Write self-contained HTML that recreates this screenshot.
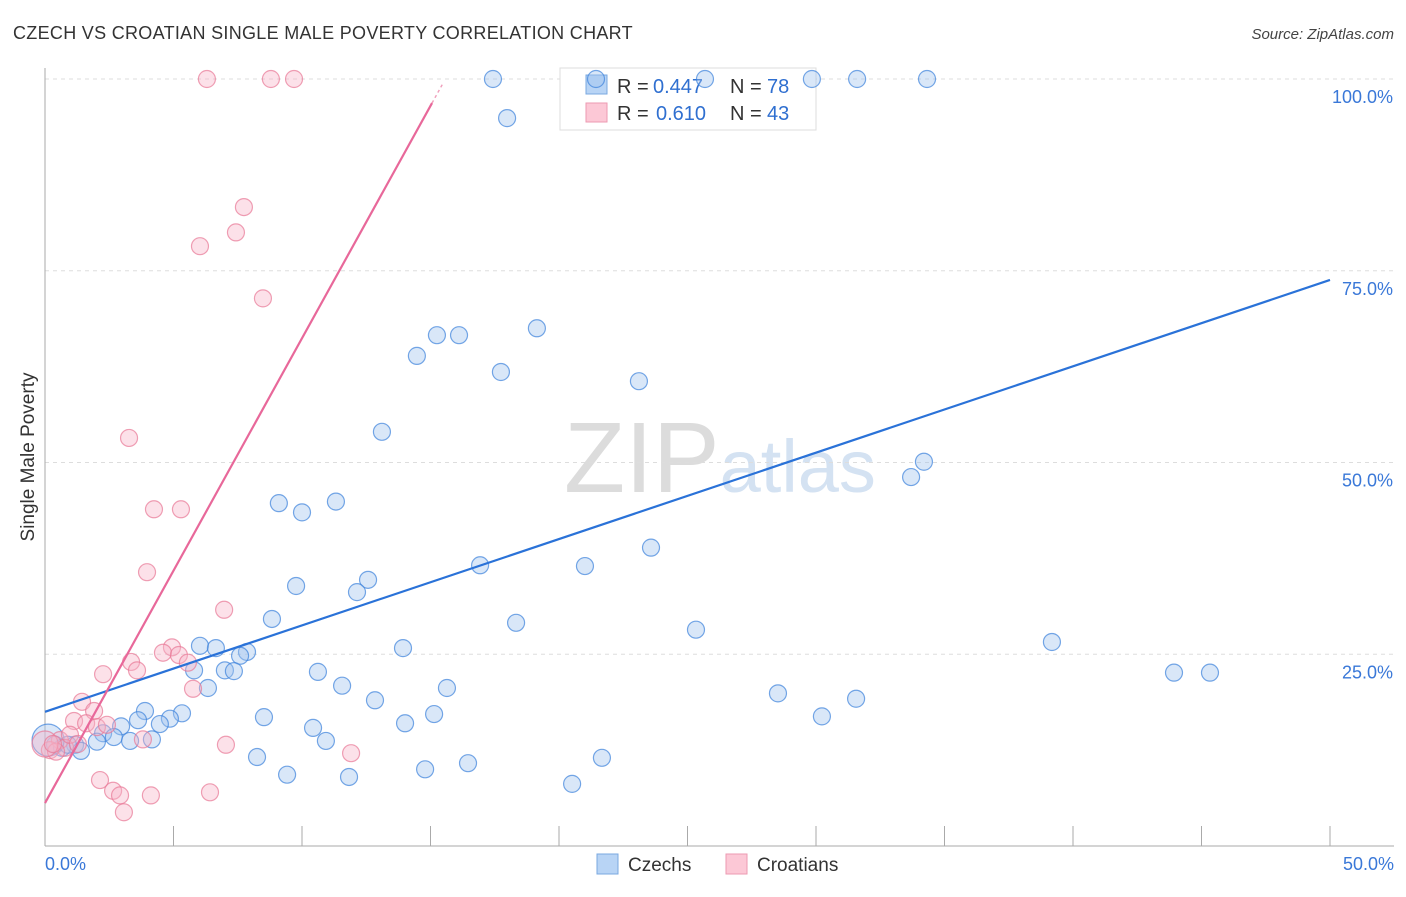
<!DOCTYPE html>
<html><head><meta charset="utf-8"><style>
body{margin:0;background:#fff;font-family:"Liberation Sans",sans-serif;}
svg text{font-family:"Liberation Sans",sans-serif;}
</style></head><body>
<svg id="chart" width="1406" height="892" xmlns="http://www.w3.org/2000/svg">
<text x="13" y="39" font-size="18" fill="#333" letter-spacing="0.3">CZECH VS CROATIAN SINGLE MALE POVERTY CORRELATION CHART</text>
<text x="1394" y="39" font-size="15" fill="#444" text-anchor="end" font-style="italic">Source: ZipAtlas.com</text>
<text x="720" y="492" font-size="100" fill="#e4e4e4" text-anchor="middle" font-family="Liberation Serif"><tspan fill="#dcdcdc">ZIP</tspan><tspan fill="#d4e2f2" font-family="Liberation Sans" font-size="74">atlas</tspan></text>
<text transform="translate(34,457) rotate(-90)" font-size="19" fill="#333" text-anchor="middle">Single Male Poverty</text>
<g id="grid"></g><g id="axes"></g>
<g>
<rect x="560" y="68" width="256" height="62" fill="#fff" stroke="#ddd"/>
<rect x="586" y="75" width="21" height="19" fill="#b8d4f5" stroke="#7aa8e0"/>
<text x="617" y="93" font-size="20" fill="#333">R =</text>
<text x="653" y="93" font-size="20" fill="#2f6fd0">0.447</text>
<text x="730" y="93" font-size="20" fill="#333">N =</text>
<text x="767" y="93" font-size="20" fill="#2f6fd0">78</text>
<rect x="586" y="103" width="21" height="19" fill="#fcc8d6" stroke="#ec9ab2"/>
<text x="617" y="120" font-size="20" fill="#333">R =</text>
<text x="656" y="120" font-size="20" fill="#2f6fd0">0.610</text>
<text x="730" y="120" font-size="20" fill="#333">N =</text>
<text x="767" y="120" font-size="20" fill="#2f6fd0">43</text>
</g>
<g id="pts"></g><g id="lines"></g>
<g>
<rect x="597" y="854" width="21" height="20" fill="#b8d4f5" stroke="#7aa8e0"/>
<text x="628" y="871" font-size="19" fill="#333">Czechs</text>
<rect x="726" y="854" width="21" height="20" fill="#fcc8d6" stroke="#ec9ab2"/>
<text x="757" y="871" font-size="19" fill="#333">Croatians</text>
</g>
</svg>
<script>
const yTicks=[25,50,75,100];
const yTickLabels=["25.0%","50.0%","75.0%","100.0%"];
const xTickLabels=["0.0%","50.0%"];
const czechX=[17.43,17.98,21.44,25.68,29.84,31.60,34.32,15.25,16.11,19.14,14.47,17.74,23.11,13.11,34.20,33.70,9.10,10.00,11.32,23.58,16.93,21.01,9.77,12.57,12.14,8.83,18.33,25.33,39.18,43.93,45.33,6.03,6.65,7.86,7.59,5.80,7.00,7.35,10.62,13.93,6.34,11.56,15.64,28.52,31.56,12.84,3.89,5.33,4.86,4.47,3.62,8.52,15.14,30.23,14.01,10.43,2.96,2.26,2.68,3.31,4.16,2.02,1.17,10.93,1.40,8.25,21.67,16.46,14.79,9.42,11.83,20.51,0.39,0.66,0.89,0.12];
const czechY=[100,94.9,100,100,100,100,100,66.6,66.6,67.5,63.9,61.8,60.6,54.0,50.1,48.1,44.7,43.5,44.9,38.9,36.6,36.5,33.9,34.7,33.1,29.6,29.1,28.2,26.6,22.6,22.6,26.1,25.8,25.3,24.8,22.9,22.9,22.8,22.7,25.8,20.6,20.9,20.6,19.9,19.2,19.0,17.6,17.3,16.6,15.9,16.4,16.8,17.2,16.9,16.0,15.4,15.6,14.7,14.2,13.7,13.9,13.6,13.2,13.7,12.4,11.6,11.5,10.8,10.0,9.3,9.0,8.1,13.2,12.8,13.2,13.8];
const croatX=[6.30,8.79,9.69,7.74,7.43,6.03,8.48,3.27,4.24,5.29,3.97,6.97,4.94,4.59,5.21,5.56,3.35,3.58,2.26,5.76,1.44,1.91,1.13,1.60,2.02,2.41,3.81,7.04,11.91,2.14,2.65,2.92,4.12,3.07,6.42,0.58,0.78,0.19,0.43,0.97,1.28,0,0.31];
const croatY=[100,100,100,83.3,80.0,78.2,71.4,53.2,43.9,43.9,35.7,30.8,25.9,25.2,24.9,23.9,24.0,22.9,22.4,20.5,18.8,17.6,16.3,16.0,15.5,15.8,13.9,13.2,12.1,8.6,7.2,6.6,6.6,4.4,7.0,13.8,12.8,12.5,12.3,14.5,13.3,13.3,13.3];
const czechFit=[17.5,73.8];   // y at x=0, x=50
const croatFit=[5.6,6.06];  // intercept, slope

const X0=45,X1=1330,Y0=846,Y100=79;
const sx=v=>X0+(X1-X0)*v/50;
const sy=v=>Y0-(Y0-Y100)*v/100;
const NS="http://www.w3.org/2000/svg";
function mk(tag,attrs,parent){const e=document.createElementNS(NS,tag);for(const k in attrs)e.setAttribute(k,attrs[k]);document.getElementById(parent).appendChild(e);return e;}

yTicks.forEach((t,i)=>{
  const g=mk('line',{x1:45,x2:1394,y1:sy(t),y2:sy(t),stroke:'#ddd','stroke-dasharray':'4,4'},'grid');
  
  
  const tx=mk('text',{x:1393,y:sy(t)+24,'font-size':18,fill:'#3a78d8','text-anchor':'end'},'axes');
  tx.textContent=yTickLabels[i];
  
  
});
const ax=mk('line',{x1:45,x2:45,y1:68,y2:846,stroke:'#aaa'},'axes');


const bx=mk('line',{x1:45,x2:1394,y1:846,y2:846,stroke:'#aaa'},'axes');


for(let i=1;i<=10;i++){
  const t=mk('line',{x1:sx(i*5),x2:sx(i*5),y1:826,y2:846,stroke:'#aaa'},'axes');
  
  
}
[[0,'start',45],[50,'end',1394]].forEach((d,i)=>{
  const t=mk('text',{x:d[2],y:870,'font-size':18,fill:'#3a78d8','text-anchor':d[1]},'axes');
  t.textContent=xTickLabels[i];
  
  
});
czechX.forEach((x,i)=>{
  const r=(i==czechX.length-1)?16:8.5;
  const c=mk('circle',{cx:sx(x),cy:sy(czechY[i]),r:r,fill:'rgba(160,196,238,0.4)',stroke:'rgba(60,130,220,0.7)','stroke-width':1.2},'pts');
  
  
});
croatX.forEach((x,i)=>{
  const r=(i==croatX.length-2)?13:8.5;
  const c=mk('circle',{cx:sx(x),cy:sy(croatY[i]),r:r,fill:'rgba(248,180,200,0.4)',stroke:'rgba(232,120,150,0.7)','stroke-width':1.2},'pts');
  
  
});
const bl=mk('line',{x1:sx(0),y1:sy(czechFit[0]),x2:sx(50),y2:sy(czechFit[1]),stroke:'#2a72d8','stroke-width':2.2},'lines');


const xe=15.06;
const pl=mk('line',{x1:sx(0),y1:sy(croatFit[0]),x2:sx(xe),y2:sy(croatFit[0]+croatFit[1]*xe),stroke:'#e8689a','stroke-width':2.2},'lines');


const pd=mk('line',{x1:sx(xe),y1:sy(croatFit[0]+croatFit[1]*xe),x2:sx(15.5),y2:sy(croatFit[0]+croatFit[1]*15.5),stroke:'#f0a0bc','stroke-width':1.5,'stroke-dasharray':'3,3'},'lines');


</script>
</body></html>
